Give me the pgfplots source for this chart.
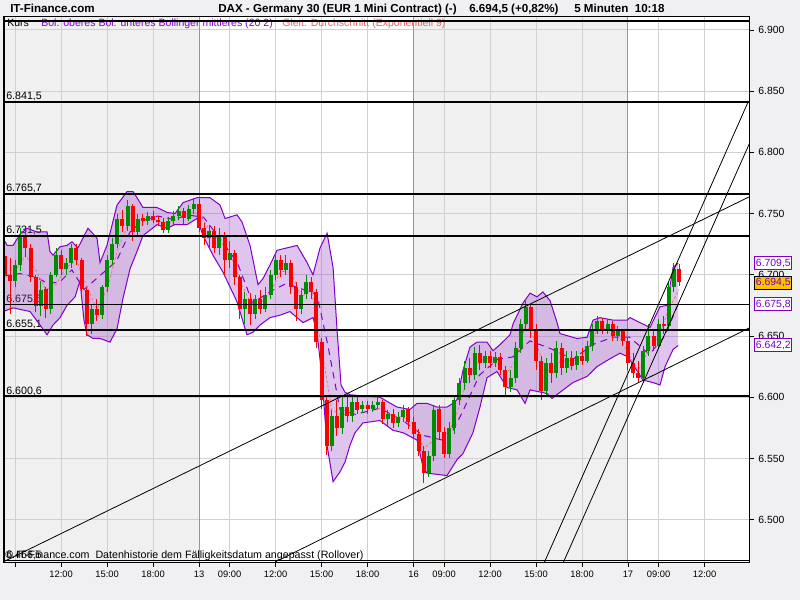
\documentclass[border=0pt]{standalone}
\usepackage{pgfplots}
\pgfplotsset{compat=1.18}
\usepackage{pgfplotstable}
\usepackage{fontspec}
\setmainfont{Liberation Sans}
\definecolor{pagebg}{RGB}{240,240,242}
\definecolor{daybg}{RGB}{240,240,240}
\definecolor{gridc}{RGB}{208,208,208}
\definecolor{dayline}{RGB}{150,150,150}
\definecolor{bandline}{RGB}{128,0,200}
\definecolor{bandfill}{RGB}{150,60,200}
\definecolor{upc}{RGB}{0,140,0}
\definecolor{dnc}{RGB}{255,0,0}
\definecolor{emac}{RGB}{240,120,120}
\definecolor{boxorange}{RGB}{255,192,0}
\definecolor{boxtext}{RGB}{110,0,190}
\definecolor{legred}{RGB}{230,100,100}

\pgfplotstableread{
h o hi lo c
1.333 6715 6722 6694 6700
1.667 6700 6714 6668 6695
2.000 6695 6712 6690 6708
2.333 6708 6738 6703 6732
2.667 6732 6737 6715 6722
3.000 6722 6725 6694 6698
3.333 6698 6700 6670 6675
3.667 6675 6695 6666 6688
4.000 6688 6690 6665 6672
4.333 6672 6702 6668 6700
4.667 6700 6722 6698 6716
5.000 6716 6720 6700 6705
5.333 6705 6714 6700 6710
5.667 6710 6725 6706 6722
6.000 6722 6725 6708 6712
6.333 6712 6714 6684 6688
6.667 6688 6690 6650 6660
7.000 6660 6676 6652 6672
7.333 6672 6680 6662 6667
7.667 6667 6692 6664 6690
8.000 6690 6716 6686 6712
8.333 6712 6730 6708 6725
8.667 6725 6750 6722 6746
9.000 6746 6753 6735 6740
9.333 6740 6761 6736 6756
9.667 6756 6758 6728 6735
10.000 6735 6750 6732 6746
10.333 6746 6750 6740 6744
10.667 6744 6751 6741 6748
11.000 6748 6752 6742 6745
11.333 6745 6748 6740 6743
11.667 6743 6746 6734 6737
12.000 6737 6747 6734 6744
12.333 6744 6752 6741 6748
12.667 6748 6756 6745 6752
13.000 6752 6755 6742 6746
13.333 6746 6757 6744 6754
13.667 6754 6763 6750 6758
14.000 6758 6762 6735 6738
14.333 6738 6742 6724 6730
14.667 6730 6741 6722 6736
15.000 6736 6740 6718 6722
15.333 6722 6738 6716 6732
15.667 6732 6735 6700 6712
16.000 6712 6728 6706 6718
16.333 6718 6720 6692 6698
16.667 6698 6700 6664 6672
17.000 6672 6686 6660 6680
17.333 6680 6685 6659 6668
17.667 6668 6684 6664 6680
18.000 6680 6688 6668 6672
18.333 6672 6690 6670 6684
18.667 6684 6704 6680 6700
19.000 6700 6718 6696 6712
19.333 6712 6716 6698 6704
19.667 6704 6716 6700 6710
20.000 6710 6712 6684 6690
20.333 6690 6694 6662 6672
20.667 6672 6688 6668 6684
21.000 6684 6700 6680 6694
21.333 6694 6698 6680 6686
21.667 6686 6688 6640 6645
22.000 6645 6648 6590 6598
22.333 6598 6602 6553 6560
22.667 6560 6590 6556 6585
23.000 6585 6598 6568 6575
23.333 6575 6600 6570 6592
23.667 6592 6603 6580 6585
24.000 6585 6600 6580 6596
24.333 6596 6600 6586 6590
24.667 6590 6597 6587 6594
25.000 6594 6597 6586 6590
25.333 6590 6597 6588 6594
25.667 6594 6600 6590 6596
26.000 6596 6598 6578 6582
26.333 6582 6590 6577 6586
26.667 6586 6590 6575 6579
27.000 6579 6588 6576 6584
27.333 6584 6594 6580 6590
27.667 6590 6592 6574 6580
28.000 6580 6584 6566 6570
28.333 6570 6574 6552 6556
28.667 6556 6560 6530 6538
29.000 6538 6556 6535 6552
29.333 6552 6594 6548 6590
29.667 6590 6594 6566 6572
30.000 6572 6576 6550 6554
30.333 6554 6580 6550 6575
30.667 6575 6602 6570 6598
31.000 6598 6616 6594 6612
31.333 6612 6630 6606 6624
31.667 6624 6632 6612 6618
32.000 6618 6641 6614 6636
32.333 6636 6643 6622 6628
32.667 6628 6638 6624 6634
33.000 6634 6638 6624 6628
33.333 6628 6637 6625 6633
33.667 6633 6636 6618 6622
34.000 6622 6626 6602 6608
34.333 6608 6622 6604 6616
34.667 6616 6645 6612 6640
35.000 6640 6664 6636 6660
35.333 6660 6679 6655 6674
35.667 6674 6676 6648 6655
36.000 6655 6660 6622 6630
36.333 6630 6634 6598 6605
36.667 6605 6632 6602 6628
37.000 6628 6636 6612 6620
37.333 6620 6646 6616 6640
37.667 6640 6644 6618 6624
38.000 6624 6638 6620 6632
38.333 6632 6638 6622 6626
38.667 6626 6638 6622 6634
39.000 6634 6640 6626 6630
39.333 6630 6646 6628 6642
39.667 6642 6660 6638 6656
40.000 6656 6666 6652 6662
40.333 6662 6665 6652 6656
40.667 6656 6664 6652 6660
41.000 6660 6662 6646 6650
41.333 6650 6658 6646 6654
41.667 6654 6656 6642 6646
42.000 6646 6648 6622 6628
42.333 6628 6636 6616 6620
42.667 6620 6630 6612 6616
43.000 6616 6642 6612 6638
43.333 6638 6660 6634 6650
43.667 6650 6656 6638 6642
44.000 6642 6664 6640 6660
44.333 6660 6666 6652 6658
44.667 6658 6694 6656 6690
45.000 6690 6710 6686 6705
45.333 6705 6709 6691 6694.5
}\candles

\pgfplotstableread{
h p
1.21 6730
1.47 6724
1.86 6724
2.31 6733
2.77 6738
3.42 6735
4.08 6735
4.27 6719
4.47 6716
4.93 6723
5.38 6724
5.71 6727
6.10 6722
6.75 6738
7.34 6730
7.54 6710
7.99 6724
8.65 6757
9.30 6768
9.69 6768
9.95 6763
10.34 6755
11.26 6755
11.91 6751
12.43 6750
12.96 6759
13.87 6763
14.72 6763
15.37 6757
15.70 6746
16.48 6749
16.81 6743
17.33 6724
17.85 6692
18.18 6697
18.63 6708
19.09 6720
19.74 6722
20.40 6724
21.05 6710
21.44 6700
21.90 6722
22.36 6734
22.75 6706
23.01 6655
23.27 6610
23.53 6604
23.86 6602
25.81 6600
26.92 6592
27.77 6590
28.23 6595
28.88 6595
29.53 6592
30.19 6592
30.58 6595
30.84 6598
31.23 6622
31.69 6641
32.14 6645
32.80 6645
33.19 6638
33.65 6643
34.30 6651
34.50 6660
35.15 6677
35.61 6685
36.06 6682
36.45 6686
36.91 6679
37.37 6661
37.56 6652
38.67 6648
39.33 6649
39.72 6663
40.17 6665
41.02 6663
41.94 6663
42.13 6665
42.78 6661
43.44 6657
44.09 6674
44.55 6675
44.94 6706
45.27 6709.5
}\bandup

\pgfplotstableread{
h p
1.21 6670
1.86 6673
2.97 6670
3.62 6659
4.08 6651
4.47 6659
4.93 6665
5.38 6675
5.91 6682
6.23 6695
6.49 6663
6.69 6651
7.08 6648
7.54 6648
8.19 6645
8.65 6656
9.04 6681
9.50 6705
9.95 6719
10.34 6732
11.26 6741
11.91 6738
12.43 6741
13.22 6741
13.87 6746
14.26 6732
14.91 6716
15.57 6702
16.48 6678
17.13 6651
17.52 6653
17.98 6659
18.63 6665
19.29 6667
19.94 6670
20.40 6665
20.79 6661
21.44 6665
21.70 6653
22.03 6616
22.35 6561
22.75 6531
23.20 6539
23.53 6547
23.86 6561
24.18 6571
24.70 6579
25.81 6581
26.66 6573
27.32 6571
28.23 6565
28.62 6543
28.88 6538
30.19 6536
30.84 6549
31.23 6554
31.88 6571
32.34 6592
32.80 6616
33.45 6621
34.10 6608
34.76 6606
35.28 6595
35.61 6606
36.71 6603
37.04 6599
37.56 6604
38.41 6612
39.33 6617
39.98 6625
40.63 6630
41.48 6636
42.00 6633
42.98 6614
43.63 6612
44.09 6610
44.42 6625
44.94 6639
45.27 6642.2
}\bandlo

% band area: upper band forward, then lower band backward
\pgfplotstableread{
h p
1.21 6730
1.47 6724
1.86 6724
2.31 6733
2.77 6738
3.42 6735
4.08 6735
4.27 6719
4.47 6716
4.93 6723
5.38 6724
5.71 6727
6.10 6722
6.75 6738
7.34 6730
7.54 6710
7.99 6724
8.65 6757
9.30 6768
9.69 6768
9.95 6763
10.34 6755
11.26 6755
11.91 6751
12.43 6750
12.96 6759
13.87 6763
14.72 6763
15.37 6757
15.70 6746
16.48 6749
16.81 6743
17.33 6724
17.85 6692
18.18 6697
18.63 6708
19.09 6720
19.74 6722
20.40 6724
21.05 6710
21.44 6700
21.90 6722
22.36 6734
22.75 6706
23.01 6655
23.27 6610
23.53 6604
23.86 6602
25.81 6600
26.92 6592
27.77 6590
28.23 6595
28.88 6595
29.53 6592
30.19 6592
30.58 6595
30.84 6598
31.23 6622
31.69 6641
32.14 6645
32.80 6645
33.19 6638
33.65 6643
34.30 6651
34.50 6660
35.15 6677
35.61 6685
36.06 6682
36.45 6686
36.91 6679
37.37 6661
37.56 6652
38.67 6648
39.33 6649
39.72 6663
40.17 6665
41.02 6663
41.94 6663
42.13 6665
42.78 6661
43.44 6657
44.09 6674
44.55 6675
44.94 6706
45.27 6709.5
45.27 6642.2
44.94 6639
44.42 6625
44.09 6610
43.63 6612
42.98 6614
42.00 6633
41.48 6636
40.63 6630
39.98 6625
39.33 6617
38.41 6612
37.56 6604
37.04 6599
36.71 6603
35.61 6606
35.28 6595
34.76 6606
34.10 6608
33.45 6621
32.80 6616
32.34 6592
31.88 6571
31.23 6554
30.84 6549
30.19 6536
28.88 6538
28.62 6543
28.23 6565
27.32 6571
26.66 6573
25.81 6581
24.70 6579
24.18 6571
23.86 6561
23.53 6547
23.20 6539
22.75 6531
22.35 6561
22.03 6616
21.70 6653
21.44 6665
20.79 6661
20.40 6665
19.94 6670
19.29 6667
18.63 6665
17.98 6659
17.52 6653
17.13 6651
16.48 6678
15.57 6702
14.91 6716
14.26 6732
13.87 6746
13.22 6741
12.43 6741
11.91 6738
11.26 6741
10.34 6732
9.95 6719
9.50 6705
9.04 6681
8.65 6656
8.19 6645
7.54 6648
7.08 6648
6.69 6651
6.49 6663
6.23 6695
5.91 6682
5.38 6675
4.93 6665
4.47 6659
4.08 6651
3.62 6659
2.97 6670
1.86 6673
1.21 6670
}\bandpoly

\pgfplotstableread{
h p
1.27 6699
2.3 6701
3.4 6698
4.1 6693
4.9 6694
5.7 6704
6.5 6688
7.5 6699
8.6 6711
9.5 6735
10.3 6744
11.3 6748
12.4 6745
13.2 6749
14.3 6747
15.4 6729
16.5 6710
17.5 6677
18.6 6686
19.7 6693
20.8 6688
21.7 6684
22.4 6643
23.2 6590
24.2 6586
25.8 6591
27.3 6581
28.6 6569
30.2 6564
31.2 6588
32.3 6618
33.5 6631
34.5 6633
35.6 6646
36.9 6640
38.4 6631
39.7 6643
41.0 6649
42.1 6649
43.4 6635
44.4 6650
45.27 6675.8
}\bandmid

\pgfplotstableread{
h p
1.33 6705
2.00 6703
2.67 6716
3.33 6704
4.00 6688
4.67 6692
5.33 6706
6.00 6712
6.67 6690
7.33 6672
8.00 6688
8.67 6720
9.33 6740
10.00 6742
10.67 6745
11.33 6744
12.00 6742
12.67 6747
13.33 6751
14.00 6750
14.67 6737
15.33 6728
16.00 6718
16.67 6695
17.33 6678
18.00 6676
18.67 6686
19.33 6703
20.00 6702
20.67 6682
21.33 6688
22.00 6640
22.67 6590
23.33 6585
24.00 6590
24.67 6592
25.33 6592
26.00 6590
26.67 6584
27.33 6584
28.00 6578
28.67 6558
29.33 6565
30.00 6568
30.67 6580
31.33 6608
32.00 6626
32.67 6632
33.33 6630
34.00 6618
34.67 6630
35.33 6660
36.00 6645
36.67 6620
37.33 6628
38.00 6630
38.67 6630
39.33 6638
40.00 6655
40.67 6657
41.33 6652
42.00 6636
42.67 6622
43.33 6638
44.00 6650
44.67 6672
45.33 6688
}\emadata

\begin{document}
\begin{tikzpicture}
\useasboundingbox (0,0) rectangle (600pt,450pt);
\fill[pagebg] (0,0) rectangle (600pt,450pt);
\begin{axis}[
  at={(3pt,28.5pt)}, anchor=south west,
  scale only axis, width=558.75pt, height=408.75pt,
  xmin=1.27, xmax=49.9, ymin=6465.4, ymax=6910.6,
  xtick={2,5,8,11,16,19,22,25,30,33,36,39,44,47},
  xticklabels={,12:00,15:00,18:00,09:00,12:00,15:00,18:00,09:00,12:00,15:00,18:00,09:00,12:00},
  extra x ticks={14,28,42},
  extra x tick labels={13,16,17},
  extra x tick style={tick label style={font=\bfseries\fontsize{8.5}{9}\selectfont}},
  ytick={6500,6550,6600,6650,6700,6750,6800,6850,6900},
  yticklabels={6.500,6.550,6.600,6.650,6.700,6.750,6.800,6.850,6.900},
  tick align=outside,
  xtick pos=left, ytick pos=right,
  yticklabel pos=right,
  major tick length=3.5pt,
  tick style={black, line width=0.6pt},
  x tick label style={font=\fontsize{7}{8}\selectfont},
  y tick label style={font=\fontsize{7.8}{9}\selectfont, anchor=west},
  /pgf/number format/assume math mode=true,
  axis line style={black, line width=0.75pt},
  axis on top,
  candle/.style={only marks, mark=*, mark size=0pt, mark options={draw=none, fill=none}},
]
% session background
\addplot[fill=daybg, draw=none] coordinates {(1.27,6465.4) (14,6465.4) (14,6910.6) (1.27,6910.6)};
\addplot[fill=white, draw=none] coordinates {(14,6465.4) (28,6465.4) (28,6910.6) (14,6910.6)};
\addplot[fill=daybg, draw=none] coordinates {(28,6465.4) (42,6465.4) (42,6910.6) (28,6910.6)};
\addplot[fill=white, draw=none] coordinates {(42,6465.4) (49.9,6465.4) (49.9,6910.6) (42,6910.6)};
% grid
\addplot[gridc, line width=0.75pt, unbounded coords=jump] coordinates {
(2,6465.4) (2,6910.6) (2,nan) (5,6465.4) (5,6910.6) (5,nan) (8,6465.4) (8,6910.6) (8,nan)
(11,6465.4) (11,6910.6) (11,nan) (16,6465.4) (16,6910.6) (16,nan) (19,6465.4) (19,6910.6) (19,nan)
(22,6465.4) (22,6910.6) (22,nan) (25,6465.4) (25,6910.6) (25,nan) (30,6465.4) (30,6910.6) (30,nan)
(33,6465.4) (33,6910.6) (33,nan) (36,6465.4) (36,6910.6) (36,nan) (39,6465.4) (39,6910.6) (39,nan)
(44,6465.4) (44,6910.6) (44,nan) (47,6465.4) (47,6910.6)};
\addplot[gridc, line width=0.75pt, unbounded coords=jump] coordinates {
(1.27,6500) (49.9,6500) (nan,6500) (1.27,6550) (49.9,6550) (nan,6550) (1.27,6600) (49.9,6600) (nan,6600)
(1.27,6650) (49.9,6650) (nan,6650) (1.27,6700) (49.9,6700) (nan,6700) (1.27,6750) (49.9,6750) (nan,6750)
(1.27,6800) (49.9,6800) (nan,6800) (1.27,6850) (49.9,6850) (nan,6850) (1.27,6900) (49.9,6900)};
\addplot[dayline, line width=0.75pt, unbounded coords=jump] coordinates {
(14,6465.4) (14,6910.6) (14,nan) (28,6465.4) (28,6910.6) (28,nan) (42,6465.4) (42,6910.6)};

% legend text and line labels
\node[anchor=base west, inner sep=0pt, font=\fontsize{7.9}{9}\selectfont] at (axis cs:1.47,6902.9) {Kurs};
\node[anchor=base west, inner sep=0pt, text=bandline, font=\fontsize{7.9}{9}\selectfont] at (axis cs:3.69,6902.9) {Bol. oberes Bol. unteres Bollinger mittleres (20 2)};
\node[anchor=base west, inner sep=0pt, text=legred, font=\fontsize{7.9}{9}\selectfont] at (axis cs:19.42,6902.9) {Gleit. Durchschnitt (Exponentiell 9)};
\node[anchor=base west, inner sep=0pt, font=\fontsize{8}{9}\selectfont] at (axis cs:1.40,6843.5) {6.841,5};
\node[anchor=base west, inner sep=0pt, font=\fontsize{8}{9}\selectfont] at (axis cs:1.40,6767.7) {6.765,7};
\node[anchor=base west, inner sep=0pt, font=\fontsize{8}{9}\selectfont] at (axis cs:1.40,6733.5) {6.731,5};
\node[anchor=base west, inner sep=0pt, font=\fontsize{8}{9}\selectfont] at (axis cs:1.40,6677.6) {6.675,6};
\node[anchor=base west, inner sep=0pt, font=\fontsize{8}{9}\selectfont] at (axis cs:1.40,6657.1) {6.655,1};
\node[anchor=base west, inner sep=0pt, font=\fontsize{8}{9}\selectfont] at (axis cs:1.40,6602.6) {6.600,6};
\node[anchor=base west, inner sep=0pt, font=\fontsize{8}{9}\selectfont] at (axis cs:1.40,6468.5) {6.466,5};

% Bollinger band
\addplot[fill=bandfill, fill opacity=0.3, draw=none] table[x=h, y=p] {\bandpoly};
\addplot[bandline, line width=0.75pt] table[x=h, y=p] {\bandup};
\addplot[bandline, line width=0.75pt] table[x=h, y=p] {\bandlo};
\addplot[bandline, line width=0.75pt, dash pattern=on 5pt off 4pt] table[x=h, y=p] {\bandmid};
\addplot[emac, line width=0.6pt, dash pattern=on 2pt off 1.5pt] table[x=h, y=p] {\emadata};

% candles: wicks (error bar length is zero for the other colour)
\addplot[candle,
  error bars/.cd, y dir=both, y explicit, error mark=none,
  error bar style={upc, line width=0.75pt}]
  table[x=h, y expr={(\thisrow{hi}+\thisrow{lo})/2},
        y error expr={(\thisrow{c}>=\thisrow{o})*(\thisrow{hi}-\thisrow{lo})/2}] {\candles};
\addplot[candle,
  error bars/.cd, y dir=both, y explicit, error mark=none,
  error bar style={dnc, line width=0.75pt}]
  table[x=h, y expr={(\thisrow{hi}+\thisrow{lo})/2},
        y error expr={(\thisrow{c}<\thisrow{o})*(\thisrow{hi}-\thisrow{lo})/2}] {\candles};
% candles: bodies
\addplot[candle,
  error bars/.cd, y dir=both, y explicit, error mark=none,
  error bar style={upc, line width=3pt}]
  table[x=h, y expr={(\thisrow{o}+\thisrow{c})/2},
        y error expr={(\thisrow{c}>=\thisrow{o})*max(abs(\thisrow{c}-\thisrow{o})/2,0.6)}] {\candles};
\addplot[candle,
  error bars/.cd, y dir=both, y explicit, error mark=none,
  error bar style={dnc, line width=3pt}]
  table[x=h, y expr={(\thisrow{o}+\thisrow{c})/2},
        y error expr={(\thisrow{c}<\thisrow{o})*max(abs(\thisrow{c}-\thisrow{o})/2,0.6)}] {\candles};

% horizontal lines
\addplot[black, line width=1.5pt] coordinates {(1.27,6907.4) (49.9,6907.4)};
\addplot[black, line width=1.5pt] coordinates {(1.27,6841.5) (49.9,6841.5)};
\addplot[black, line width=1.5pt] coordinates {(1.27,6765.7) (49.9,6765.7)};
\addplot[black, line width=1.5pt] coordinates {(1.27,6731.5) (49.9,6731.5)};
\addplot[black, line width=0.75pt] coordinates {(1.27,6675.6) (49.9,6675.6)};
\addplot[black, line width=1.5pt] coordinates {(1.27,6655.1) (49.9,6655.1)};
\addplot[black, line width=1.5pt] coordinates {(1.27,6600.6) (49.9,6600.6)};
\addplot[black, line width=0.75pt] coordinates {(1.27,6466.5) (49.9,6466.5)};
% trend lines
\addplot[black, line width=0.6pt] coordinates {(1.27,6465.8) (49.9,6763.6)};
\addplot[black, line width=0.6pt] coordinates {(18.96,6465.4) (49.9,6656.5)};
\addplot[black, line width=0.6pt] coordinates {(36.52,6464.5) (49.84,6841.2)};
\addplot[black, line width=0.6pt] coordinates {(37.76,6464.5) (49.97,6808.5)};
\end{axis}

% title
\node[anchor=base west, inner sep=0pt, font=\bfseries\fontsize{8.7}{10}\selectfont] at (7.5pt,440.6pt) {IT-Finance.com};
\node[anchor=base west, inner sep=0pt, font=\bfseries\fontsize{8.7}{10}\selectfont] at (163.5pt,440.6pt) {DAX - Germany 30 (EUR 1 Mini Contract) (-)};
\node[anchor=base west, inner sep=0pt, font=\bfseries\fontsize{8.7}{10}\selectfont] at (351.75pt,440.6pt) {6.694,5 (+0,82\%)};
\node[anchor=base west, inner sep=0pt, font=\bfseries\fontsize{8.7}{10}\selectfont] at (430.5pt,440.6pt) {5 Minuten\ \ 10:18};
% copyright
\node[anchor=base west, inner sep=0pt, font=\fontsize{8}{9}\selectfont] at (3.75pt,31.1pt) {© IT-Finance.com\ \ Datenhistorie dem Fälligkeitsdatum angepasst (Rollover)};
% price boxes
\tikzset{pbox/.style={draw=bandline, fill=white, text=boxtext, font=\fontsize{7.8}{9}\selectfont, minimum width=27.75pt, minimum height=9.75pt, inner sep=0pt, line width=0.75pt}}
\node[pbox] at (580pt,252.6pt) {6.709,5};
\node[pbox, draw=black, fill=boxorange] at (580pt,237.8pt) {6.694,5};
\node[pbox] at (580pt,221.7pt) {6.675,8};
\node[pbox] at (580pt,190.9pt) {6.642,2};
\end{tikzpicture}
\end{document}
